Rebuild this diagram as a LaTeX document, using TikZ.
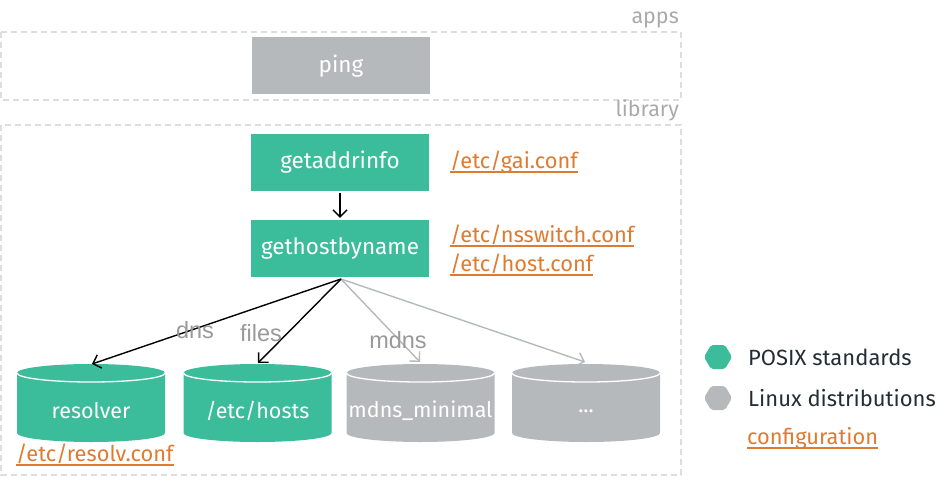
\documentclass[tikz,border=0pt]{standalone}
\usepackage{fontspec}
\setmainfont{Fira Sans}
\newfontfamily\edgefont{Liberation Sans}
\usetikzlibrary{arrows.meta}
\definecolor{teal}{HTML}{3BBC9B}
\definecolor{greyf}{HTML}{B6B9BB}
\definecolor{confor}{HTML}{E07A2F}
\definecolor{dashg}{HTML}{DDDDDD}
\definecolor{lblg}{HTML}{AAAAAA}
\definecolor{edgeg}{HTML}{999999}
\definecolor{darkt}{HTML}{222D36}
\tikzset{
  grpbox/.style={draw=dashg, line width=1.3pt, dash pattern=on 6pt off 4pt},
  grplbl/.style={text=lblg, font=\fontsize{21.5}{24}\selectfont, anchor=base east, inner sep=0},
  fnbox/.style={fill=teal, text=white, minimum width=178pt, minimum height=57pt, inner sep=0, font=\fontsize{22.5}{26}\selectfont},
  appbox/.style={fnbox, fill=greyf},
  cyltext/.style={text=white, inner sep=0, font=\fontsize{21.5}{26}\selectfont},
  conf/.style={text=confor, inner sep=0, anchor=base west, font=\fontsize{21.8}{26}\selectfont,
    append after command={([yshift=-4pt]\tikzlastnode.base west) edge[draw=confor, line width=1.8pt, -] ([yshift=-4pt]\tikzlastnode.base east)}},
  blackarr/.style={draw=black, line width=1.4pt, -{Straight Barb[length=7pt,width=14pt]}},
  greyarr/.style={draw=greyf, line width=1.4pt, -{Straight Barb[length=7pt,width=14pt]}},
  elbl/.style={text=edgeg, inner sep=0, font=\edgefont\fontsize{23.5}{26}\selectfont},
  legt/.style={text=darkt, inner sep=0, anchor=west, font=\fontsize{22}{26}\selectfont},
}
\newcommand{\mycyl}[2]{%
  \fill[#2] (#1-74,373) -- (#1-74,433) arc (180:0:74 and 9) -- (#1+74,373) arc (0:-180:74 and 9) -- cycle;
  \draw[white, line width=1.3pt] (#1-74,373) arc (180:0:74 and 9);
}
\newcommand{\myhex}[2]{%
  \fill[#2, rounded corners=2pt] (#1) ++(-14,0) -- ++(7,-12) -- ++(14,0) -- ++(7,12) -- ++(-7,12) -- ++(-14,0) -- cycle;
}
\begin{document}
\begin{tikzpicture}[x=1pt,y=-1pt]
\useasboundingbox (0,0) rectangle (944,484);
% groups
\draw[grpbox] (1,32) rectangle (681,100);
\draw[grpbox] (1,125) rectangle (681,475);
\node[grplbl] (appslbl) at (679,24) {apps};
\node[grplbl] (liblbl) at (679,117) {library};
% boxes
\node[appbox] (ping) at (341,66) {ping};
\node[fnbox] (gai) at (340,162.5) {getaddrinfo};
\node[fnbox] (ghn) at (340,248.5) {gethostbyname};
% configs
\node[conf] (gaiconf) at (450,168) {/etc/gai.conf};
\node[conf] (nssconf) at (450,242) {/etc/nsswitch.conf};
\node[conf] (hostconf) at (450,271) {/etc/host.conf};
% cylinders
\mycyl{91}{teal}
\mycyl{257.5}{teal}
\mycyl{420.5}{greyf}
\mycyl{586}{greyf}
\node[cyltext] (resolver) at (91,411) {resolver};
\node[cyltext] (hosts) at (257.5,411) {/etc/hosts};
\node[cyltext] (mdnsmin) at (420.5,411) {mdns\_minimal};
\node[cyltext] (dots) at (586,411) {...};
\coordinate (resolvertop) at (92,364);
\coordinate (hoststop) at (258,363);
\coordinate (mdnstop) at (420,362);
\coordinate (dotstop) at (585,362);
\coordinate (src) at (341,279);
\node[conf] (resolvconf) at (16,461) {/etc/resolv.conf};
% connectors
\draw[blackarr] ([yshift=-2pt]gai.south) -- ([yshift=2pt]ghn.north);
\draw[greyarr] (src) -- (mdnstop);
\draw[greyarr] (src) -- (dotstop);
\draw[blackarr] (src) -- (resolvertop);
\draw[blackarr] (src) -- (hoststop);
\node[elbl] (dnslbl) at (195,330) {dns};
\node[elbl] (fileslbl) at (261,333) {files};
\node[elbl] (mdnslbl) at (398,340) {mdns};
% legend
\coordinate (hexa) at (718,357);
\coordinate (hexb) at (718,398);
\myhex{hexa}{teal}
\myhex{hexb}{greyf}
\node[legt] (posix) at (748,357) {POSIX standards};
\node[legt] (linux) at (748,398) {Linux distributions};
\node[conf] (cfg) at (747,444) {configuration};
\end{tikzpicture}
\end{document}
